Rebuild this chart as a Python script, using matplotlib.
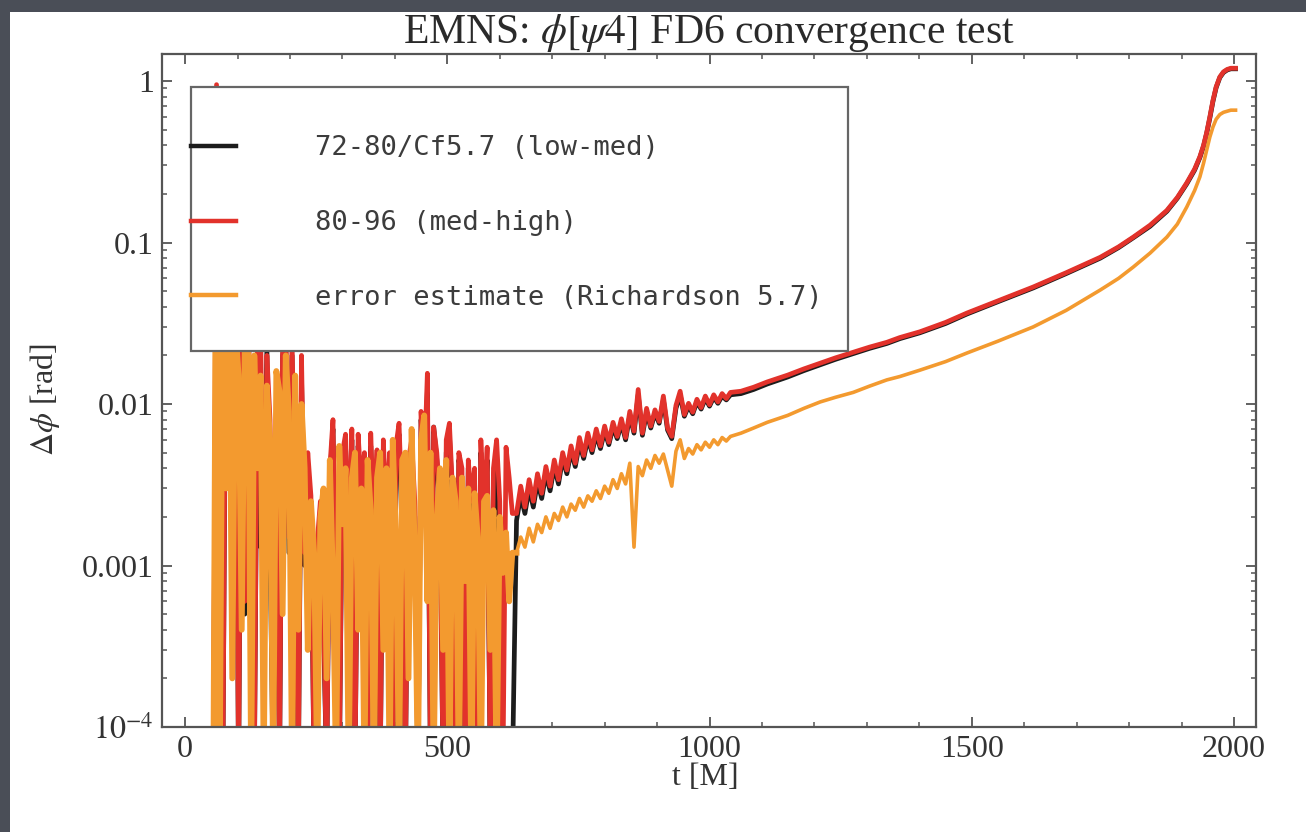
import numpy as np
import matplotlib
matplotlib.use("Agg")
import matplotlib.pyplot as plt
from matplotlib.patches import Rectangle
from matplotlib.ticker import FixedLocator, MultipleLocator, LogLocator, NullFormatter

plt.rcParams['font.family'] = 'serif'
plt.rcParams['font.serif'] = ['Liberation Serif', 'DejaVu Serif']
plt.rcParams['mathtext.fontset'] = 'stix'

LO = 5e-5  # below the 1e-4 floor: trace drops off the bottom

title = r'EMNS: $\phi[\psi4]$ FD6 convergence test'
xlabel = 't [M]'
ylabel = r'$\Delta\phi$ [rad]'
labels = ['72-80/Cf5.7 (low-med)', '80-96 (med-high)', 'error estimate (Richardson 5.7)']
ytick_vals = [1e-4, 1e-3, 1e-2, 1e-1, 1]
ytick_labels = [r'$10^{-4}$', '0.001', '0.01', '0.1', '1']
xtick_vals = [0, 500, 1000, 1500, 2000]

# noisy early part, read every 6 M from t=48 to t=624
t_noisy = np.arange(48, 630, 6)
black_noisy = [
    LO, LO, 0.3, 0.003, LO, 0.05, 0.018, 0.0008, 0.04, LO,
    0.03, 0.0005, 0.025, 0.008, LO, 0.02, 0.0013, 0.0014, 0.022, 0.0013,
    LO, 0.008, LO, 0.02, 0.025, 0.0012, 0.02, 0.0015, LO, 0.015,
    0.001, 0.004, 0.0022, LO, 0.0007, 0.0007, 0.0004, LO, 0.0035, 0.007,
    0.0005, LO, 0.004, 0.0055, 0.001, 0.006, LO, 0.0055, 0.0025, 0.0045,
    LO, 0.0055, 0.0015, 0.0045, LO, 0.005, 0.0015, 0.0045, LO, 0.005,
    0.0065, 0.0015, LO, 0.004, 0.0029, 0.002, LO, 0.008, 0.0035, 0.012,
    LO, 0.0072, 0.0045, 0.002, LO, 0.005, 0.0065, 0.0025, LO, 0.0045,
    0.0035, LO, 0.004, 0.002, 0.0035, LO, 0.005, 0.0015, 0.0045, LO,
    0.0035, 0.005, LO, LO, LO, LO, LO]
red_noisy = [
    LO, LO, 0.95, 0.0035, LO, 0.06, 0.02, 0.001, 0.05, LO,
    0.04, 0.0006, 0.03, 0.01, LO, 0.025, 0.03, 0.0008, 0.02, 0.008,
    0.0005, 0.01, LO, 0.025, 0.03, 0.0015, 0.025, 0.002, LO, 0.02,
    0.0012, 0.005, 0.0027, LO, 0.0014, 0.0025, 0.0005, LO, 0.004, 0.008,
    0.0006, LO, 0.005, 0.0065, 0.0012, 0.007, LO, 0.0065, 0.003, 0.005,
    LO, 0.0066, 0.0018, 0.0052, LO, 0.006, 0.002, 0.005, LO, 0.0055,
    0.0076, 0.002, LO, 0.0045, 0.006, 0.0025, LO, 0.009, 0.004, 0.0155,
    LO, 0.0072, 0.005, 0.0025, LO, 0.006, 0.0076, 0.0029, LO, 0.005,
    0.004, LO, 0.0045, 0.0025, 0.004, LO, 0.006, 0.002, 0.0054, LO,
    0.004, 0.006, 0.0025, LO, 0.0054, 0.0035, 0.0021]
orange_noisy = [
    LO, LO, 0.8, LO, 0.05, 0.003, 0.04, 0.0002, 0.03, 0.015,
    0.0004, 0.025, 0.03, LO, 0.02, 0.004, 0.015, LO, 0.013, 0.006,
    LO, 0.016, 0.012, 0.0005, 0.02, 0.009, LO, 0.015, 0.0004, 0.01,
    0.004, 0.0003, 0.0025, 0.0012, LO, 0.002, 0.003, 0.0002, 0.0045, 0.0008,
    LO, 0.0055, 0.0018, 0.004, LO, 0.0035, 0.005, 0.0004, 0.003, LO,
    0.0045, 0.0022, LO, 0.0035, 0.005, 0.0003, 0.004, LO, 0.006, 0.0015,
    LO, 0.0045, 0.005, 0.0002, 0.007, 0.0012, LO, 0.006, 0.0085, 0.0006,
    0.005, LO, 0.002, 0.004, 0.0003, 0.0045, LO, 0.0035, 0.0025, LO,
    0.0035, 0.0008, 0.003, LO, 0.0028, 0.0015, LO, 0.0025, 0.0027, 0.0003,
    0.0022, LO, 0.002, 0.0009, 0.0016, 0.0006, 0.0012]

# jittery band after the noise settles, t=632..1040 every 8 M
t_band = np.arange(632, 1048, 8)
black_band = [
    0.0019, 0.0027, 0.0021, 0.0030, 0.0023, 0.0033, 0.0026, 0.0037,
    0.0029, 0.0041, 0.0032, 0.0046, 0.0037, 0.0051, 0.0041, 0.0057,
    0.0046, 0.0061, 0.0050, 0.0065, 0.0053, 0.0068, 0.0056, 0.0072,
    0.0061, 0.0076, 0.0060, 0.0085, 0.0066, 0.0114, 0.0064, 0.0089,
    0.0071, 0.0088, 0.0076, 0.0106, 0.0069, 0.0061, 0.0094, 0.0114,
    0.0084, 0.0097, 0.0087, 0.0103, 0.0093, 0.0108, 0.0097, 0.0110,
    0.0101, 0.0112, 0.0106, 0.0114]
red_band = [
    0.0021, 0.0031, 0.0023, 0.0034, 0.0025, 0.0037, 0.0028, 0.0041,
    0.0031, 0.0045, 0.0034, 0.0050, 0.0039, 0.0055, 0.0043, 0.0062,
    0.0048, 0.0066, 0.0052, 0.0070, 0.0055, 0.0073, 0.0058, 0.0077,
    0.0063, 0.0081, 0.0062, 0.0090, 0.0068, 0.0123, 0.0066, 0.0094,
    0.0073, 0.0092, 0.0078, 0.0112, 0.0071, 0.0063, 0.0098, 0.0120,
    0.0086, 0.0101, 0.0089, 0.0107, 0.0095, 0.0112, 0.0099, 0.0114,
    0.0103, 0.0116, 0.0108, 0.0118]
orange_band = [
    0.0012, 0.0015, 0.0013, 0.0017, 0.0014, 0.0018, 0.0016, 0.0020,
    0.0017, 0.0021, 0.0019, 0.0023, 0.0020, 0.0024, 0.0022, 0.0026,
    0.0023, 0.0027, 0.0025, 0.0029, 0.0026, 0.0031, 0.0028, 0.0034,
    0.0030, 0.0037, 0.0032, 0.0043, 0.0013, 0.0041, 0.0036, 0.0045,
    0.0040, 0.0048, 0.0043, 0.0049, 0.0039, 0.0031, 0.0051, 0.0060,
    0.0046, 0.0053, 0.0049, 0.0056, 0.0052, 0.0058, 0.0054, 0.0060,
    0.0056, 0.0062, 0.0059, 0.0063]

# smooth late part up to merger
t_tail = [1060, 1084, 1110, 1149, 1180, 1211, 1240, 1274, 1305, 1338, 1363, 1401,
          1450, 1491, 1550, 1617, 1680, 1745, 1780, 1808, 1840, 1872, 1892, 1910,
          1925, 1935, 1942, 1948, 1954, 1960, 1966, 1973, 1980, 1987, 1994, 2003]
black_tail = [0.0116, 0.0123, 0.0133, 0.0147, 0.0161, 0.0175, 0.0189, 0.0205, 0.0221,
              0.0237, 0.0254, 0.0276, 0.0315, 0.0361, 0.0430, 0.0523, 0.0642, 0.080,
              0.093, 0.107, 0.126, 0.156, 0.188, 0.231, 0.281, 0.336, 0.395, 0.475,
              0.59, 0.75, 0.91, 1.05, 1.13, 1.17, 1.19, 1.19]
red_tail = [0.0120, 0.0127, 0.0137, 0.0151, 0.0165, 0.0179, 0.0193, 0.0209, 0.0225,
            0.0241, 0.0258, 0.0280, 0.0320, 0.0366, 0.0435, 0.053, 0.065, 0.081,
            0.094, 0.108, 0.128, 0.158, 0.190, 0.234, 0.285, 0.34, 0.40, 0.48,
            0.60, 0.76, 0.92, 1.06, 1.14, 1.18, 1.20, 1.20]
orange_tail = [0.0066, 0.0071, 0.0077, 0.0085, 0.0094, 0.0103, 0.0110, 0.0118, 0.0129,
               0.0141, 0.0148, 0.0162, 0.0183, 0.0207, 0.0245, 0.030, 0.038, 0.0508,
               0.060, 0.0705, 0.086, 0.108, 0.130, 0.166, 0.21, 0.255, 0.31, 0.374,
               0.45, 0.52, 0.58, 0.62, 0.64, 0.65, 0.66, 0.66]

t_all = np.concatenate([t_noisy, t_band, t_tail])
black = np.concatenate([black_noisy, black_band, black_tail])
red = np.concatenate([red_noisy, red_band, red_tail])
orange = np.concatenate([orange_noisy, orange_band, orange_tail])
n_noisy = len(t_noisy)  # the orange trace is drawn heavier there

W, H = 1306, 832
fig = plt.figure(figsize=(W / 100, H / 100), dpi=100, facecolor='#4a4e57')
fig.patches.append(Rectangle((10 / W, 0), 1, 1 - 12 / H, transform=fig.transFigure,
                             facecolor='white', edgecolor='none', zorder=-5))
ax = fig.add_axes([162 / W, 1 - 727 / H, (1256 - 162) / W, (727 - 54) / H])

c_black, c_red, c_orange = '#1c1c1c', '#e2322b', '#f39a2f'
l_black, = ax.plot(t_all, black, color=c_black, lw=3.4)
l_red, = ax.plot(t_all, red, color=c_red, lw=3.4)
ax.plot(t_all[:n_noisy + 1], orange[:n_noisy + 1], color=c_orange, lw=4.2)
l_orange, = ax.plot(t_all[n_noisy:], orange[n_noisy:], color=c_orange, lw=2.6)

ax.set_yscale('log')
ax.set_xlim(-44, 2042)
ax.set_ylim(1e-4, 1.47)

ax.xaxis.set_major_locator(FixedLocator(xtick_vals))
ax.xaxis.set_minor_locator(MultipleLocator(100))
ax.yaxis.set_major_locator(FixedLocator(ytick_vals))
ax.set_yticklabels(ytick_labels)
ax.yaxis.set_minor_locator(LogLocator(base=10, subs=np.arange(2, 10)))
ax.yaxis.set_minor_formatter(NullFormatter())

spine_col = '#555555'
for s in ax.spines.values():
    s.set_color(spine_col)
    s.set_linewidth(1.6)
ax.tick_params(which='both', direction='in', top=True, right=True, color=spine_col,
               labelsize=23, labelcolor='#333333', pad=6)
ax.tick_params(which='major', length=7, width=1.3)
ax.tick_params(which='minor', length=3.5, width=1.1)

ax.set_title(title, fontsize=30, color='#2a2a2a', pad=3)
ax.set_xlabel(xlabel, fontsize=23, color='#333333')
ax.set_ylabel(ylabel, fontsize=23, color='#333333')
ax.xaxis.set_label_coords(0.497, -0.053)
ax.yaxis.set_label_coords(-0.091, 0.486)

# legend box drawn separately so the handles can touch its left edge
box_x0, box_y0 = (191 - 162) / 1094, (727 - 351) / 673
box_w, box_h = (848 - 191) / 1094, (351 - 87) / 673
ax.add_patch(Rectangle((box_x0, box_y0), box_w, box_h, transform=ax.transAxes,
                       facecolor='white', edgecolor='#666666', lw=1.6, zorder=4,
                       clip_on=False))
leg = ax.legend([l_black, l_red, l_orange], labels, loc='center left',
                bbox_to_anchor=(box_x0, (727 - 223) / 673), frameon=False,
                borderpad=0, borderaxespad=0, handlelength=1.67, handletextpad=2.9,
                labelspacing=1.8, prop={'family': 'DejaVu Sans Mono', 'size': 19.5},
                labelcolor='#3c3c3c')
leg.set_zorder(5)
for h in leg.get_lines():
    h.set_linewidth(3.2)

fig.savefig('out.png', dpi=100, facecolor=fig.get_facecolor())
